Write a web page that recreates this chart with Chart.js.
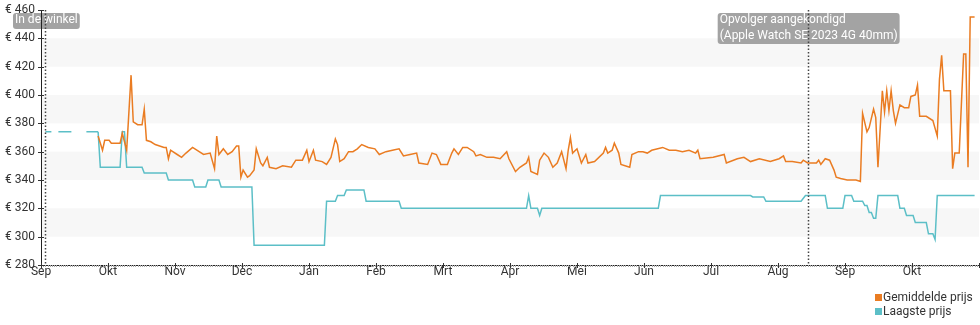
<!DOCTYPE html>
<html>
<head>
<meta charset="utf-8">
<script src="https://cdn.jsdelivr.net/npm/chart.js@4/dist/chart.umd.min.js"></script>
<style>
html, body { margin: 0; padding: 0; background: #fff; }
#wrap { width: 980px; height: 325px; }
</style>
</head>
<body>
<div id="wrap"><canvas id="priceChart" width="980" height="325"></canvas></div>
<script>
// x values are days since the first "Sep" tick; the axis shows one month per 30.5 days
const monthLabels = ['Sep', 'Okt', 'Nov', 'Dec', 'Jan', 'Feb', 'Mrt', 'Apr', 'Mei', 'Jun', 'Jul', 'Aug', 'Sep', 'Okt'];
const DAYS_PER_MONTH = 30.5;

const avgDays = [26, 28, 29, 31, 32, 36, 37, 39, 41, 42, 44, 46, 47, 48, 50, 52, 54, 56, 57, 58, 59, 60, 62, 64, 66, 69, 72, 74, 77, 79,
    80, 81, 83, 85, 87, 89, 90, 91, 92, 94, 95, 97, 98, 100, 101, 103, 104, 107, 110, 114, 116, 119, 121, 122, 123, 124, 125, 128, 130, 132,
    134, 135, 136, 138, 140, 142, 144, 146, 149, 152, 154, 157, 160, 163, 165, 168, 171, 172, 176, 178, 180, 182, 185, 187, 188, 190, 192, 194, 197, 198,
    200, 203, 206, 209, 212, 213, 216, 218, 221, 222, 223, 226, 227, 229, 231, 233, 235, 237, 239, 240, 241, 242, 244, 246, 248, 249, 252, 256, 257, 258,
    260, 261, 263, 264, 268, 269, 272, 274, 276, 278, 283, 286, 289, 292, 295, 298, 299, 300, 306, 311, 312, 317, 320, 323, 327, 332, 336, 338, 339, 342,
    346, 347, 349, 353, 354, 355, 357, 359, 361, 362, 364, 367, 369, 371, 373, 374, 376, 377, 379, 380, 381, 383, 384, 385, 386, 387, 388, 389, 391, 393,
    395, 396, 398, 399, 400, 403, 406, 408, 409, 410, 411, 414, 415, 416, 418, 420, 421, 422, 423, 425];
const avgPrices = [371, 361, 368, 368, 366, 366, 373, 361, 414, 381, 379, 379, 390, 368, 367, 365, 364, 363, 363, 355, 361, 360, 358, 356, 359, 363, 360, 358, 359, 348,
    371, 358, 362, 358, 360, 364, 364, 342, 347, 342, 343, 347, 362, 352, 350, 356, 349, 348, 350, 349, 354, 354, 361, 353, 357, 361, 354, 353, 351, 356,
    369, 365, 353, 355, 360, 360, 362, 365, 363, 362, 358, 360, 361, 362, 357, 358, 359, 352, 351, 359, 358, 351, 351, 359, 362, 358, 363, 363, 360, 357,
    358, 356, 356, 355, 360, 355, 346, 349, 352, 356, 346, 344, 354, 359, 356, 349, 352, 360, 348, 361, 370, 359, 362, 352, 358, 352, 353, 359, 363, 359,
    361, 366, 359, 351, 349, 358, 360, 360, 359, 361, 363, 361, 361, 360, 361, 359, 361, 355, 356, 358, 352, 355, 356, 353, 355, 353, 355, 357, 353, 353,
    352, 354, 352, 352, 354, 351, 355, 354, 347, 342, 341, 340, 340, 340, 339, 387, 374, 377, 390, 384, 349, 403, 388, 403, 389, 403, 389, 380, 393, 391,
    391, 399, 400, 407, 385, 385, 382, 371, 411, 428, 403, 403, 348, 359, 359, 429, 429, 349, 455, 455];

const lowDays = [2, 26, 27, 36, 37, 38, 39, 46, 47, 57, 58, 69, 70, 75, 76, 81, 82, 96, 97, 129, 130, 134, 135, 138, 139, 147, 148, 163, 164, 221,
    222, 223, 226, 227, 228, 281, 282, 323, 324, 329, 330, 346, 348, 357, 358, 365, 366, 369, 370, 374, 375, 376, 377, 378, 379, 380, 381, 390, 391, 393,
    394, 397, 398, 403, 404, 406, 407, 408, 425];
const lowPrices = [374, 374, 349, 349, 374, 374, 349, 349, 345, 345, 340, 340, 335, 335, 340, 340, 335, 335, 294, 294, 325, 325, 329, 329, 333, 333, 325, 325, 320, 320,
    329, 320, 320, 315, 320, 320, 329, 329, 328, 328, 325, 325, 329, 329, 320, 320, 329, 329, 325, 325, 322, 322, 317, 317, 313, 313, 329, 329, 320, 320,
    315, 315, 310, 310, 302, 302, 298, 329, 329];

const eventDays = [2, 349];
const eventLabels = [['In de winkel'], ['Opvolger aangekondigd', '(Apple Watch SE 2023 4G 40mm)']];

const FONT = '"Roboto", "Noto Sans", sans-serif';
Chart.defaults.font.family = FONT;
Chart.defaults.font.size = 12;
Chart.defaults.color = '#333';

function toPoints(xs, ys) {
    return xs.map((d, i) => ({ x: d, y: ys[i] }));
}

// light zebra bands behind every second 20 euro step, plus the event label boxes
const backdrop = {
    id: 'backdrop',
    beforeDraw(chart) {
        const { ctx, chartArea: a, scales: { x, y } } = chart;
        ctx.save();
        ctx.fillStyle = '#f7f7f7';
        y.ticks.forEach((t, i) => {
            if (i % 2 === 1 && i < y.ticks.length - 1) {
                const top = y.getPixelForValue(y.ticks[i + 1].value);
                const bottom = y.getPixelForValue(t.value);
                ctx.fillRect(a.left, top, a.right - a.left, bottom - top);
            }
        });
        ctx.font = '12px ' + FONT;
        ctx.textBaseline = 'top';
        eventDays.forEach((d, i) => {
            const lines = eventLabels[i];
            const w = Math.max(...lines.map(l => ctx.measureText(l).width)) + 4;
            const h = lines.length * 15 + 1;
            const cx = x.getPixelForValue(d) + 1;
            const left = cx - w / 2;
            const top = 13;
            ctx.fillStyle = '#a3a3a3';
            ctx.beginPath();
            ctx.roundRect(left, top, w, h, 3);
            ctx.fill();
            ctx.fillStyle = '#fff';
            lines.forEach((l, j) => ctx.fillText(l, left + 2, top + 1 + j * 15.5));
        });
        ctx.restore();
    },
    afterDatasetsDraw(chart) {
        const { ctx, chartArea: a, scales: { x } } = chart;
        ctx.save();
        ctx.strokeStyle = '#444';
        ctx.lineWidth = 1.5;
        ctx.setLineDash([1.5, 2]);
        eventDays.forEach(d => {
            const px = Math.round(x.getPixelForValue(d)) + 0.5;
            ctx.beginPath();
            ctx.moveTo(px, a.top);
            ctx.lineTo(px, a.bottom);
            ctx.stroke();
        });
        ctx.restore();
    }
};

// axis tick marks: small daily ticks and longer month / price ticks
const tickMarks = {
    id: 'tickMarks',
    afterDraw(chart) {
        const { ctx, chartArea: a, scales: { x, y } } = chart;
        ctx.save();
        ctx.lineWidth = 1;
        ctx.strokeStyle = '#aaa';
        ctx.beginPath();
        for (let d = 0; d <= x.max; d++) {
            const px = Math.round(x.getPixelForValue(d)) + 0.5;
            ctx.moveTo(px, a.bottom);
            ctx.lineTo(px, a.bottom + 2);
        }
        ctx.stroke();
        ctx.strokeStyle = '#333';
        ctx.beginPath();
        x.ticks.forEach(t => {
            const px = Math.round(x.getPixelForValue(t.value)) + 0.5;
            ctx.moveTo(px, a.bottom - 2);
            ctx.lineTo(px, a.bottom + 3);
        });
        y.ticks.forEach(t => {
            const py = Math.round(y.getPixelForValue(t.value)) + 0.5;
            ctx.moveTo(a.left - 3, py);
            ctx.lineTo(a.left + 3, py);
        });
        ctx.stroke();
        ctx.restore();
    }
};

// stacked legend in the bottom right corner
const cornerLegend = {
    id: 'cornerLegend',
    afterDraw(chart) {
        const { ctx } = chart;
        ctx.save();
        ctx.font = '12px ' + FONT;
        ctx.textBaseline = 'middle';
        chart.data.datasets.forEach((ds, i) => {
            const left = chart.width - 105;
            const cy = 297 + i * 14;
            ctx.fillStyle = ds.borderColor;
            ctx.fillRect(left, cy - 3, 7, 7);
            ctx.fillStyle = '#333';
            ctx.fillText(ds.label, left + 8, cy + 1);
        });
        ctx.restore();
    }
};

new Chart(document.getElementById('priceChart'), {
    type: 'line',
    data: {
        datasets: [{
            label: 'Gemiddelde prijs',
            data: toPoints(avgDays, avgPrices),
            borderColor: '#ea7c22',
            borderWidth: 1.5,
            pointRadius: 0,
            tension: 0
        }, {
            label: 'Laagste prijs',
            data: toPoints(lowDays, lowPrices),
            borderColor: '#5cbfc7',
            borderWidth: 1.5,
            pointRadius: 0,
            tension: 0,
            segment: {
                borderDash: ctx => ctx.p0DataIndex === 0 ? [6, 7, 13, 15, 13, 100] : undefined
            }
        }]
    },
    options: {
        responsive: false,
        animation: false,
        devicePixelRatio: 1,
        layout: { padding: { top: 10, right: 1, left: 0, bottom: 0 } },
        plugins: {
            legend: { display: false },
            tooltip: { enabled: false }
        },
        scales: {
            x: {
                type: 'linear',
                min: 0,
                max: DAYS_PER_MONTH * monthLabels.length,
                afterFit: s => { s.height = 60; s.paddingLeft = 0; s.paddingRight = 0; },
                grid: { display: false, drawTicks: false },
                border: { color: '#222', width: 1 },
                ticks: {
                    stepSize: DAYS_PER_MONTH,
                    autoSkip: false,
                    maxRotation: 0,
                    padding: 0,
                    callback: v => monthLabels[Math.round(v / DAYS_PER_MONTH)] ?? ''
                }
            },
            y: {
                min: 280,
                max: 460,
                afterFit: s => { s.width = 41; s.paddingTop = 0; s.paddingBottom = 0; },
                grid: { display: false, drawTicks: false },
                border: { color: '#222', width: 1 },
                ticks: {
                    stepSize: 20,
                    padding: 6,
                    callback: v => '€ ' + v
                }
            }
        }
    },
    plugins: [backdrop, tickMarks, cornerLegend]
});
</script>
</body>
</html>
